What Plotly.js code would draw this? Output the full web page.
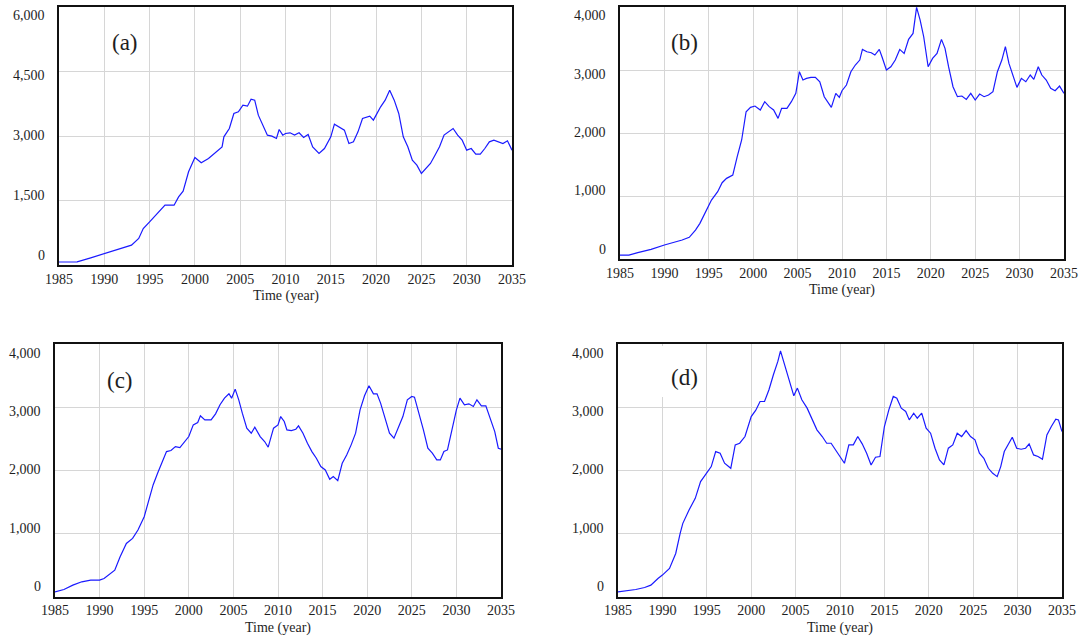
<!DOCTYPE html>
<html>
<head>
<meta charset="utf-8">
<script src="https://cdn.plot.ly/plotly-3.0.1.min.js"></script>
<style>html,body{margin:0;padding:0;background:#fff;}#chart{width:1083px;height:637px;}</style>
</head>
<body>
<div id="chart"></div>
<script>
// ---------- data ----------
const panelLabels = ['(a)', '(b)', '(c)', '(d)'];
const xTickVals = [1985, 1990, 1995, 2000, 2005, 2010, 2015, 2020, 2025, 2030, 2035];
const xTitle = 'Time (year)';

const yTickValsA = [0, 1500, 3000, 4500, 6000];
const yTickTextA = ['0', '1,500', '3,000', '4,500', '6,000'];
const yTickValsBCD = [0, 1000, 2000, 3000, 4000];
const yTickTextBCD = ['0', '1,000', '2,000', '3,000', '4,000'];

const yearsA = [1985,1987,1988.5,1990,1992,1993,1993.8,1994.3,1995,1996,
  1996.7,1997.7,1998.2,1998.7,1999.3,2000,2000.7,2001.5,2002.5,2003,
  2003.2,2003.8,2004.3,2004.8,2005.3,2005.8,2006.2,2006.6,2007,2007.5,
  2008,2008.5,2009,2009.3,2009.7,2010,2010.5,2011,2011.5,2012,
  2012.5,2013,2013.7,2014.3,2015,2015.4,2016,2016.5,2017,2017.5,
  2018,2018.5,2019.3,2019.7,2020,2020.5,2021,2021.5,2022,2022.5,
  2023,2023.5,2024,2024.5,2025,2025.5,2026,2026.5,2027,2027.5,
  2028,2028.5,2029,2029.5,2030,2030.5,2031,2031.5,2032,2032.5,
  2033,2033.5,2034,2034.5,2035];
const valuesA = [70,75,167,267,384,461,616,849,1004,1236,
  1391,1391,1585,1717,2167,2500,2376,2477,2671,2748,
  2981,3175,3524,3562,3717,3694,3857,3833,3485,3252,
  3020,2997,2942,3151,3020,3058,3074,3020,3074,2965,
  3035,2748,2593,2709,2981,3275,3190,3136,2826,2864,
  3097,3407,3462,3369,3485,3679,3834,4066,3834,3524,
  2981,2748,2438,2322,2128,2244,2360,2554,2748,3020,
  3097,3175,3020,2903,2671,2709,2577,2577,2709,2864,
  2903,2864,2826,2888,2671];

const yearsB = [1985,1986,1987,1988.5,1990,1991,1992,1992.8,1993.5,1994,
  1994.7,1995.3,1996,1996.5,1997,1997.7,1998.2,1998.7,1999.2,1999.7,
  2000.2,2000.8,2001.3,2001.8,2002.3,2002.8,2003.2,2003.8,2004.3,2004.8,
  2005.2,2005.6,2006,2006.5,2007,2007.5,2008,2008.5,2008.8,2009.3,
  2009.7,2010,2010.5,2011,2011.5,2012,2012.3,2012.8,2013.3,2013.7,
  2014.2,2014.5,2015,2015.5,2016,2016.5,2017,2017.5,2018,2018.4,
  2018.8,2019.2,2019.7,2020.2,2020.7,2021.2,2021.6,2022,2022.5,2023,
  2023.5,2024,2024.5,2025,2025.5,2026,2026.5,2027,2027.5,2028,
  2028.4,2028.8,2029.2,2029.7,2030.2,2030.7,2031.2,2031.6,2032.1,2032.5,
  2033,2033.5,2034,2034.5,2035];
const valuesB = [63,63,100,153,222,259,302,344,460,566,
  778,936,1069,1211,1280,1333,1624,1889,2338,2407,
  2428,2365,2497,2418,2365,2232,2391,2391,2497,2629,
  2973,2841,2867,2883,2883,2814,2576,2470,2407,2629,
  2566,2671,2761,2973,3079,3158,3327,3290,3274,3237,
  3327,3211,2999,3052,3158,3327,3264,3486,3581,3994,
  3793,3528,3052,3185,3264,3486,3343,3052,2735,2576,
  2587,2534,2629,2523,2618,2576,2603,2656,2973,3158,
  3370,3105,2920,2724,2867,2814,2920,2851,3052,2920,
  2841,2708,2671,2745,2629];

const yearsC = [1985,1986,1987,1988,1989,1990,1990.5,1991,1991.7,1992.3,
  1993,1993.7,1994.3,1995,1995.5,1996,1996.5,1997,1997.5,1998,
  1998.5,1999,1999.5,2000,2000.5,2001,2001.3,2001.8,2002.5,2003,
  2003.5,2004,2004.5,2004.8,2005.2,2005.6,2006,2006.5,2007,2007.4,
  2008,2008.5,2008.9,2009.5,2010,2010.3,2010.7,2011,2011.5,2012,
  2012.3,2012.8,2013.3,2013.8,2014.3,2014.8,2015.3,2015.8,2016.2,2016.7,
  2017.2,2017.7,2018.2,2018.7,2019.2,2019.7,2020.2,2020.7,2021.1,2021.5,
  2022,2022.5,2023,2023.5,2024,2024.5,2025,2025.3,2025.8,2026.3,
  2026.8,2027.3,2027.8,2028.2,2028.6,2029,2029.5,2030,2030.4,2030.9,
  2031.4,2031.9,2032.3,2032.8,2033.3,2033.8,2034.3,2034.7,2035];
const valuesC = [74,111,180,233,259,259,286,339,418,630,
  841,920,1053,1264,1529,1767,1952,2137,2296,2312,
  2375,2359,2455,2534,2719,2756,2862,2798,2798,2894,
  3037,3142,3211,3142,3285,3116,2904,2666,2587,2682,
  2534,2455,2365,2666,2719,2851,2772,2640,2629,2650,
  2703,2587,2428,2296,2190,2058,2005,1857,1899,1836,
  2111,2243,2402,2587,2957,3179,3338,3211,3211,3063,
  2825,2587,2508,2666,2851,3116,3169,3158,2904,2640,
  2349,2270,2164,2164,2296,2322,2640,2957,3142,3037,
  3052,3010,3116,3021,3021,2798,2613,2349,2333];

const yearsD = [1985,1986,1987,1988,1988.7,1989.5,1990,1990.8,1991.5,1992,
  1992.3,1993,1993.7,1994.3,1995,1995.5,1996,1996.5,1997,1997.7,
  1998.2,1998.7,1999.3,2000,2000.5,2001,2001.5,2002,2002.5,2003,
  2003.3,2003.8,2004.3,2004.8,2005.2,2005.7,2006.3,2006.8,2007.4,2008,
  2008.5,2009,2009.5,2010,2010.5,2011,2011.5,2012,2012.5,2013,
  2013.5,2014,2014.5,2015,2015.5,2016,2016.4,2016.9,2017.4,2017.8,
  2018.3,2018.7,2019.2,2019.7,2020.2,2020.7,2021.2,2021.7,2022.2,2022.7,
  2023.2,2023.7,2024.2,2024.7,2025.2,2025.7,2026.2,2026.7,2027.2,2027.7,
  2028.1,2028.5,2029,2029.4,2029.9,2030.4,2030.9,2031.3,2031.8,2032.3,
  2032.8,2033.3,2033.8,2034.3,2034.6,2035];
const valuesD = [74,90,111,143,180,286,339,444,682,1000,
  1159,1370,1555,1820,1952,2058,2296,2269,2111,2031,
  2402,2428,2534,2851,2947,3089,3089,3275,3513,3724,
  3890,3645,3433,3179,3301,3116,2984,2825,2640,2534,
  2428,2428,2322,2217,2111,2402,2402,2534,2418,2270,
  2084,2206,2217,2693,2957,3169,3142,2984,2931,2798,
  2904,2825,2904,2666,2587,2349,2164,2084,2349,2402,
  2587,2534,2629,2534,2481,2270,2190,2031,1952,1899,
  2058,2296,2428,2523,2349,2333,2349,2418,2243,2217,
  2174,2560,2693,2809,2798,2613];

// ---------- layout ----------
const W = 1083, H = 637;
// pixel boxes of the plot areas: [left, right, top, bottom]
const boxes = [
  [59, 512, 7, 265],
  [620, 1064, 7, 259],
  [55, 501, 344, 596.5],
  [618, 1062, 344, 596.5]
];
const years = [yearsA, yearsB, yearsC, yearsD];
const values = [valuesA, valuesB, valuesC, valuesD];
const yMax = [6000, 4000, 4000, 4000];
const labelPos = [[125, 43], [684, 43], [120, 380], [684, 377]];

const serif = 'Liberation Serif';
const textColor = '#1e1e1e';
const data = [];
const layout = {
  width: W, height: H,
  margin: {l: 0, r: 0, t: 0, b: 0},
  paper_bgcolor: '#ffffff', plot_bgcolor: '#ffffff',
  showlegend: false,
  font: {family: serif, size: 14, color: textColor},
  annotations: [], shapes: []
};

for (let i = 0; i < 4; i++) {
  const sfx = i === 0 ? '' : String(i + 1);
  const xa = 'x' + sfx, ya = 'y' + sfx;
  const [l, r, t, b] = boxes[i];
  data.push({
    type: 'scatter', mode: 'lines',
    x: years[i], y: values[i],
    xaxis: xa, yaxis: ya,
    line: {color: '#1a1aff', width: 1.2},
    hoverinfo: 'skip'
  });
  layout['xaxis' + sfx] = {
    domain: [l / W, r / W], anchor: ya,
    range: [1985, 2035], tickvals: xTickVals, ticktext: xTickVals.map(String),
    showgrid: true, gridcolor: '#d6d6d6', gridwidth: 1,
    showline: true, mirror: true, linecolor: '#111', linewidth: 2,
    ticks: '', zeroline: false, fixedrange: true,
    tickfont: {family: serif, size: 14, color: textColor}
  };
  const tv = i === 0 ? yTickValsA : yTickValsBCD;
  const tt = i === 0 ? yTickTextA : yTickTextBCD;
  layout['yaxis' + sfx] = {
    domain: [1 - b / H, 1 - t / H], anchor: xa,
    range: [0, yMax[i]], tickvals: tv,
    showticklabels: false,
    showgrid: true, gridcolor: '#d6d6d6', gridwidth: 1,
    showline: true, mirror: true, linecolor: '#111', linewidth: 2,
    ticks: '', zeroline: false, fixedrange: true
  };
  // y tick labels (spread slightly inside the frame as in the original)
  tv.forEach((v, k) => {
    layout.annotations.push({
      xref: xa + ' domain', yref: ya, x: 0, y: v,
      xanchor: 'right', yanchor: 'middle', xshift: -12,
      yshift: 10 - 19 * k / (tv.length - 1),
      text: tt[k], showarrow: false,
      font: {family: serif, size: 14, color: textColor}
    });
  });
  // x-axis title
  layout.annotations.push({
    xref: xa + ' domain', yref: ya + ' domain', x: 0.5, y: 0,
    xanchor: 'center', yanchor: 'middle', yshift: -31,
    text: xTitle, showarrow: false,
    font: {family: serif, size: 14, color: textColor}
  });
  // panel label
  const [px, py] = labelPos[i];
  layout.annotations.push({
    xref: xa + ' domain', yref: ya + ' domain',
    x: (px - l) / (r - l), y: (b - py) / (b - t),
    xanchor: 'center', yanchor: 'middle',
    text: panelLabels[i], showarrow: false,
    font: {family: serif, size: 23, color: textColor}
  });
}
// white patch behind label (d), covering the grid as in the original
layout.shapes.push({
  type: 'rect', xref: 'x4 domain', yref: 'y4 domain', layer: 'above',
  x0: (662 - 618) / 444, x1: (706 - 618) / 444,
  y0: (596.5 - 397) / 252.5, y1: (596.5 - 346) / 252.5,
  fillcolor: '#ffffff', line: {width: 0}
});

Plotly.newPlot('chart', data, layout, {displayModeBar: false, staticPlot: true});
</script>
</body>
</html>
